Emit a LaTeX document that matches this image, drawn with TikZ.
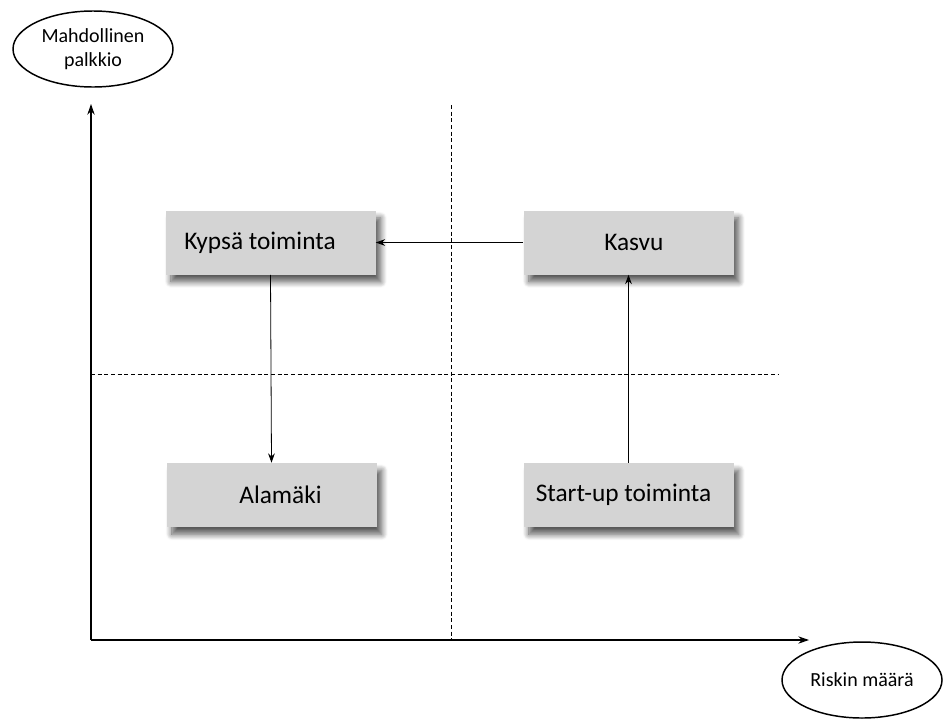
\documentclass[tikz,border=0pt]{standalone}
\usepackage{fontspec}
\setmainfont{Carlito}
\usetikzlibrary{shapes.geometric,shadows.blur,arrows.meta}
\begin{document}
\begin{tikzpicture}[x=0.75pt,y=-0.75pt,
  stagebox/.style={rectangle,fill=boxgray,minimum width=157.5pt,minimum height=48pt,inner sep=0pt,
    blur shadow={shadow xshift=4pt,shadow yshift=-5.5pt,shadow blur radius=4.5pt,shadow blur steps=10,shadow opacity=65},
    font=\fontsize{19}{22}\selectfont},
  axislabel/.style={ellipse,draw,line width=1.1pt,minimum width=120pt,minimum height=57pt,fill=white,
    font=\fontsize{15}{18}\selectfont,align=center,inner sep=0pt},
  axisline/.style={draw,line width=0.9pt,-{Stealth[length=8pt,width=5.5pt]}},
  flow/.style={draw,line width=0.6pt,-{Stealth[length=7pt,width=5pt]}},
  guide/.style={draw,line width=0.6pt,dash pattern=on 3pt off 2pt}]
\definecolor{boxgray}{RGB}{212,212,212}
\useasboundingbox (0,0) rectangle (944,718);
% axes
\coordinate (O) at (91,640);
\coordinate (ytop) at (91,104);
\coordinate (xend) at (809,640);
\draw[axisline] (O) -- (ytop);
\draw[axisline] (O) -- (xend);
% guides
\coordinate (vtop) at (451,105);
\coordinate (vbot) at (451,640);
\coordinate (hl) at (91,374);
\coordinate (hr) at (778,374);
\draw[guide] (vtop) -- (vbot);
\draw[guide] (hl) -- (hr);
% boxes
\node[stagebox] (kypsa) at (270.5,242.5) {\hspace*{-15.75pt}Kypsä toiminta};
\node[stagebox] (kasvu) at (628.5,242.5) {\raisebox{-3pt}{Kasvu}\hspace*{-8pt}};
\node[stagebox] (alamaki) at (271.5,495) {Alamäki\hspace*{-13.5pt}};
\node[stagebox] (start) at (628.5,495) {\hspace*{-7.5pt}Start-up toiminta};
% flows
\draw[flow] (kasvu.west) -- (kypsa.east);
\draw[flow] (kypsa.south) -- (alamaki.north);
\draw[flow] (start.north) -- (kasvu.south);
% labels
\node[axislabel] (ylab) at (93,49) {Mahdollinen\\palkkio};
\node[axislabel] (xlab) at (862,680) {Riskin määrä};
\end{tikzpicture}
\end{document}
